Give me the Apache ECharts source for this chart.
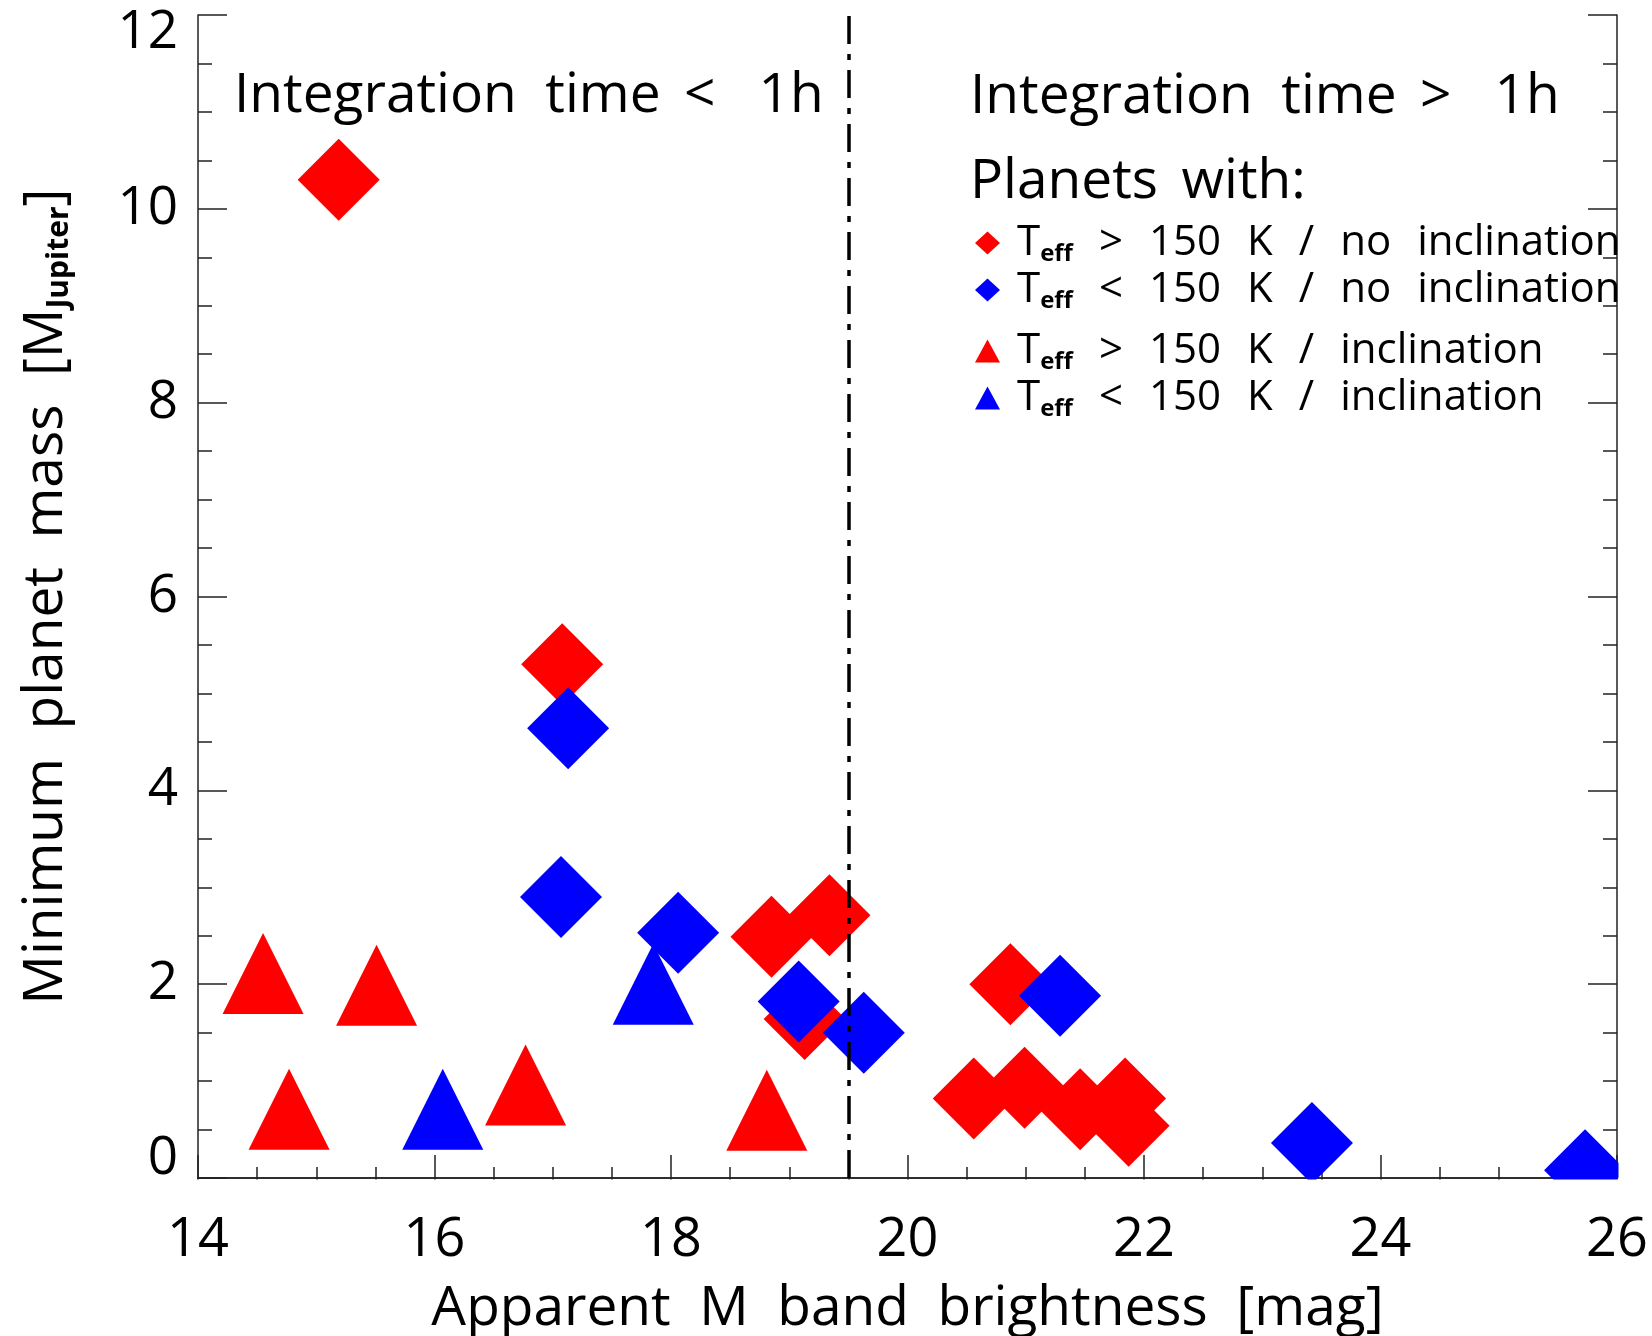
<!DOCTYPE html>
<html>
<head>
<meta charset="utf-8">
<title>Minimum planet mass vs M band brightness</title>
<script src="https://cdn.jsdelivr.net/npm/echarts@6.0.0/dist/echarts.min.js"></script>
<style>
    html, body { margin: 0; padding: 0; background: #fff; }
    #chart-container { width: 1652px; height: 1336px; }
</style>
</head>
<body>
<div id="chart-container"></div>
<script>
// [mag, M_Jupiter]
var redDiamonds = [
    [15.19, 10.30], [17.08, 5.30], [18.85, 2.49], [19.34, 2.71], [19.13, 1.64],
    [20.87, 2.00], [20.56, 0.82], [20.99, 0.93], [21.46, 0.71], [21.84, 0.82], [21.87, 0.54]
];
var blueDiamonds = [
    [17.13, 4.64], [17.07, 2.90], [18.06, 2.53], [19.08, 1.82], [19.63, 1.50],
    [21.29, 1.88], [23.42, 0.36], [25.73, 0.08]
];
var redTriangles = [
    [14.55, 2.11], [15.51, 1.99], [14.77, 0.71], [16.77, 0.96], [18.81, 0.70]
];
var blueTriangles = [
    [16.07, 0.71], [17.85, 2.00]
];
var seriesNames = [
    'Teff > 150 K / no inclination',
    'Teff < 150 K / no inclination',
    'Teff > 150 K / inclination',
    'Teff < 150 K / inclination'
];
var xRange = [14, 26];
var yRange = [0, 12];
var integrationLimit = 19.5;

var FONT = '"Open Sans", "DejaVu Sans", sans-serif';
var AXIS_COLOR = '#222';

var dom = document.getElementById('chart-container');
var myChart = echarts.init(dom, null, {
    renderer: 'canvas',
    useDirtyRect: false
});

// wide word spacing like the original plot font
function spaced(s, sep) {
    return s.split(' ').join(sep || '  ');
}

function legendText(name) {
    var rest = name.replace('Teff', '');
    return '{t|T}{s|eff}{m|' + spaced(rest, '  \u200A') + '}';
}

var legendRich = {
    t: { fontSize: 42, fontFamily: FONT, color: '#000', lineHeight: 46, padding: [0, 0, 0, 12] },
    s: { fontSize: 24, fontFamily: FONT, fontWeight: 'bold', color: '#000', lineHeight: 16, verticalAlign: 'bottom' },
    m: { fontSize: 42, fontFamily: FONT, color: '#000', lineHeight: 46 }
};

function tickStyle(len) {
    return { show: true, inside: true, length: len, lineStyle: { color: AXIS_COLOR, width: 1.5 } };
}

function minorStyle(len) {
    return { show: true, splitNumber: 4, length: len, lineStyle: { color: AXIS_COLOR, width: 1.5 } };
}

var axisLineStyle = { show: true, lineStyle: { color: AXIS_COLOR, width: 1.5 } };

var option = {
    animation: false,
    backgroundColor: '#fff',
    grid: {
        left: 198,
        top: 15,
        right: 35,
        bottom: 158,
        outerBoundsMode: 'none'
    },
    legend: [{
        orient: 'vertical',
        left: 975,
        top: 222,
        padding: 0,
        itemWidth: 25,
        itemHeight: 23,
        itemGap: 3,
        selectedMode: false,
        data: [seriesNames[0], seriesNames[1]],
        formatter: legendText,
        textStyle: { rich: legendRich }
    }, {
        orient: 'vertical',
        left: 975,
        top: 330,
        padding: 0,
        itemWidth: 25,
        itemHeight: 23,
        itemGap: 3,
        selectedMode: false,
        data: [seriesNames[2], seriesNames[3]],
        formatter: legendText,
        textStyle: { rich: legendRich }
    }],
    xAxis: [{
        type: 'value',
        min: xRange[0],
        max: xRange[1],
        interval: 2,
        position: 'bottom',
        axisLine: axisLineStyle,
        axisTick: tickStyle(23),
        minorTick: minorStyle(11),
        splitLine: { show: false },
        axisLabel: { margin: 36, fontSize: 54, fontFamily: FONT, color: '#000' },
        name: spaced('Apparent M band brightness [mag]'),
        nameLocation: 'middle',
        nameGap: 104,
        nameTextStyle: { fontSize: 55, fontFamily: FONT, color: '#000' }
    }, {
        type: 'value',
        min: xRange[0],
        max: xRange[1],
        interval: 2,
        position: 'top',
        axisLine: axisLineStyle,
        axisTick: tickStyle(23),
        minorTick: minorStyle(11),
        splitLine: { show: false },
        axisLabel: { show: false }
    }],
    yAxis: [{
        type: 'value',
        min: yRange[0],
        max: yRange[1],
        interval: 2,
        position: 'left',
        axisLine: axisLineStyle,
        axisTick: tickStyle(29),
        minorTick: minorStyle(14),
        splitLine: { show: false },
        axisLabel: {
            margin: 20,
            verticalAlignMinLabel: 'bottom',
            verticalAlignMaxLabel: 'top',
            formatter: function (v) {
                if (v === yRange[0]) return '{lo|' + v + '}';
                if (v === yRange[1]) return '{hi|' + v + '}';
                return '{n|' + v + '}';
            },
            rich: {
                n: { fontSize: 53, fontFamily: FONT, color: '#000' },
                lo: { fontSize: 53, fontFamily: FONT, color: '#000', lineHeight: 38 },
                hi: { fontSize: 53, fontFamily: FONT, color: '#000', lineHeight: 36 }
            }
        },
        name: '{m|' + spaced('Minimum planet mass') + '  [M}{s|Jupiter}{m|]}',
        nameLocation: 'middle',
        nameRotate: 90,
        nameGap: 124,
        nameTextStyle: {
            rich: {
                m: { fontSize: 55, fontFamily: FONT, color: '#000', lineHeight: 55 },
                s: { fontSize: 30, fontFamily: FONT, fontWeight: 'bold', color: '#000', lineHeight: 10, verticalAlign: 'bottom' }
            }
        }
    }, {
        type: 'value',
        min: yRange[0],
        max: yRange[1],
        interval: 2,
        position: 'right',
        axisLine: axisLineStyle,
        axisTick: tickStyle(29),
        minorTick: minorStyle(14),
        splitLine: { show: false },
        axisLabel: { show: false }
    }],
    // white masks so symbols are cut at the frame like the original
    graphic: [{
        type: 'rect',
        z: 3,
        shape: { x: 150, y: 1179.5, width: 1502, height: 36 },
        style: { fill: '#fff' },
        silent: true
    }, {
        type: 'rect',
        z: 3,
        shape: { x: 1618.5, y: 1000, width: 34, height: 179.5 },
        style: { fill: '#fff' },
        silent: true
    }, {
        type: 'text',
        z: 3,
        x: 234,
        y: 96,
        style: { text: 'Integration  time \u2006<   1h', font: '55px ' + FONT, fill: '#000', verticalAlign: 'middle' }
    }, {
        type: 'text',
        z: 3,
        x: 970,
        y: 97,
        style: { text: 'Integration  time \u2006>   1h', font: '55px ' + FONT, fill: '#000', verticalAlign: 'middle' }
    }, {
        type: 'text',
        z: 3,
        x: 970,
        y: 182,
        style: { text: 'Planets \u2009with:', font: '55px ' + FONT, fill: '#000', verticalAlign: 'middle' }
    }],
    series: [{
        name: seriesNames[2],
        type: 'scatter',
        symbol: 'triangle',
        symbolSize: 81,
        itemStyle: { color: '#ff0000', opacity: 1 },
        data: redTriangles
    }, {
        name: seriesNames[3],
        type: 'scatter',
        symbol: 'triangle',
        symbolSize: 81,
        itemStyle: { color: '#0000ff', opacity: 1 },
        data: blueTriangles
    }, {
        name: seriesNames[0],
        type: 'scatter',
        symbol: 'diamond',
        symbolSize: 82,
        itemStyle: { color: '#ff0000', opacity: 1 },
        data: redDiamonds
    }, {
        name: seriesNames[1],
        type: 'scatter',
        symbol: 'diamond',
        symbolSize: 82,
        itemStyle: { color: '#0000ff', opacity: 1 },
        data: blueDiamonds,
        markLine: {
            silent: true,
            symbol: 'none',
            z: 5,
            label: { show: false },
            lineStyle: { color: '#000', width: 3.5, type: [28, 10, 6, 10] },
            data: [{ xAxis: integrationLimit }]
        }
    }]
};

myChart.setOption(option);
window.addEventListener('resize', myChart.resize);
</script>
</body>
</html>
